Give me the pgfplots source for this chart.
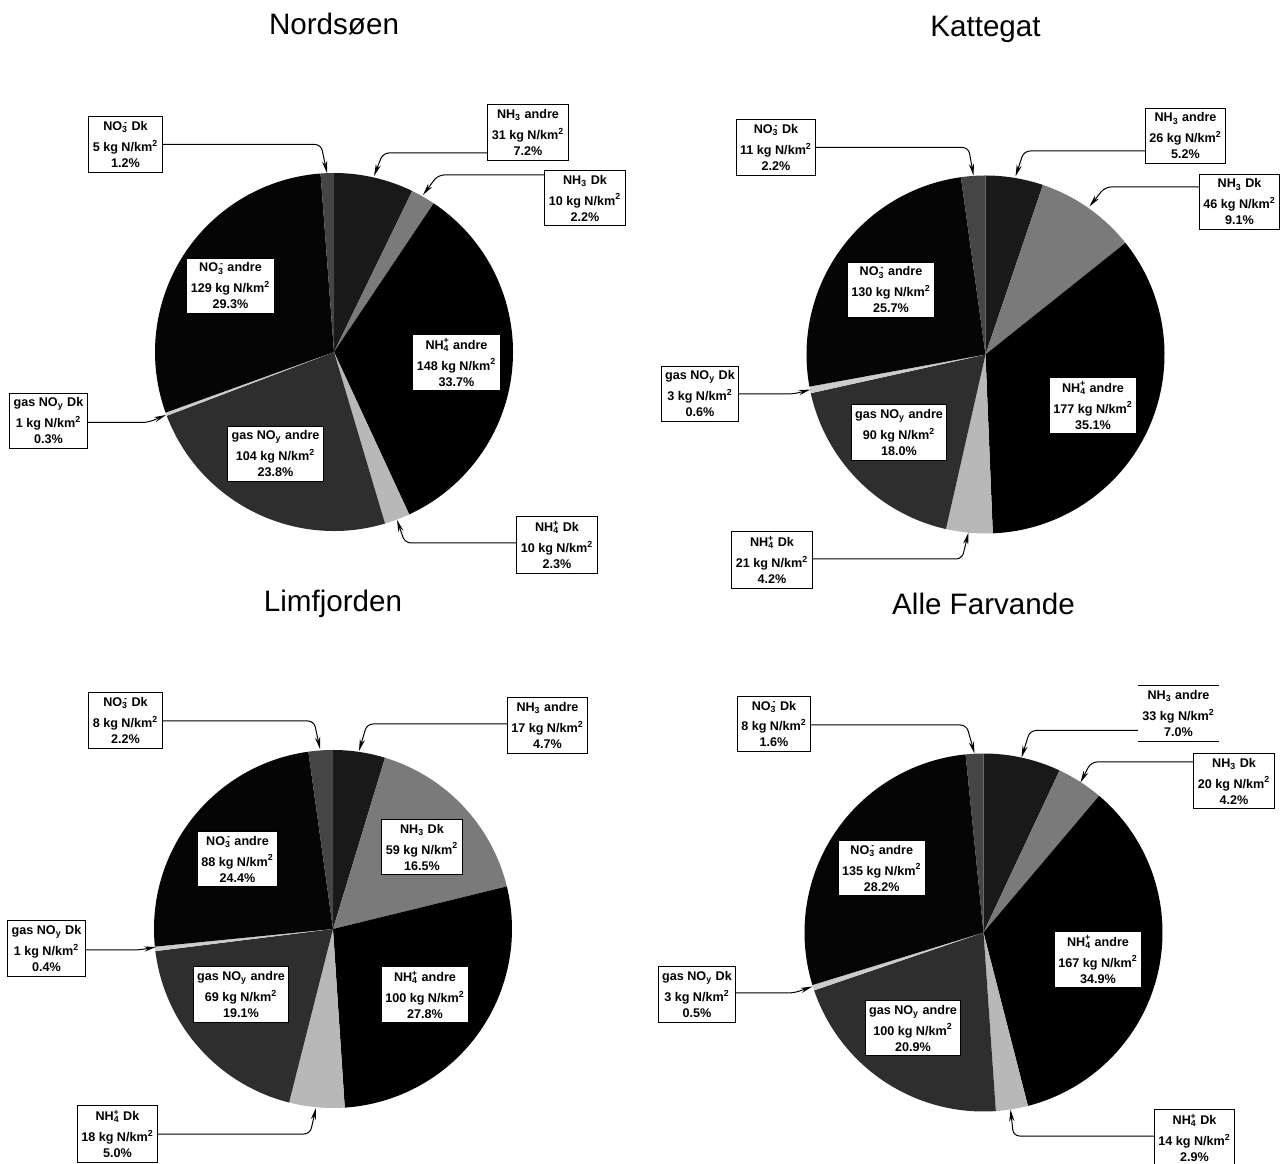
\documentclass[border=0pt]{standalone}
\usepackage{pgfplots}
\pgfplotsset{compat=1.18}
\usetikzlibrary{arrows.meta}
\usepackage{fontspec}
\setmainfont{Liberation Sans}

\definecolor{nh3a}{gray}{0.10}
\definecolor{nh3dk}{gray}{0.48}
\definecolor{nh4a}{gray}{0.0}
\definecolor{nh4dk}{gray}{0.72}
\definecolor{gasa}{gray}{0.18}
\definecolor{gasdk}{gray}{0.80}
\definecolor{no3a}{gray}{0.02}
\definecolor{no3dk}{gray}{0.27}

\newcommand{\ion}[2]{\textsubscript{#1}\llap{\textsuperscript{#2}}}
\newcommand{\kg}{kg N/km\textsuperscript{2}}

% slices clockwise from 12 o'clock: total, list of percent/colour
\newcommand{\piechart}[2]{%
  \gdef\cum{0}%
  \foreach \pct/\col in {#2} {%
    \pgfmathsetmacro\sa{90-\cum/#1*360}%
    \pgfmathsetmacro\sb{90-(\cum+\pct)/#1*360}%
    \pgfmathsetmacro\sx{179*cos(\sa)}%
    \pgfmathsetmacro\sy{179*sin(\sa)}%
    \edef\temp{\noexpand\fill[\col] (axis cs:0,0) -- (axis cs:\sx,\sy)
      arc[start angle=\sa, end angle=\sb, radius=89.5pt] -- cycle;}%
    \temp
    \pgfmathsetmacro\nn{\cum+\pct}\global\let\cum\nn
  }%
}

\pgfplotsset{
  piechart/.style={anchor=center, hide axis, x=0.5pt, y=0.5pt,
    xmin=-179, xmax=179, ymin=-179, ymax=179, clip=false,
    title style={at={(0.5,1)}, anchor=base, yshift=63.3pt,
      font=\fontsize{14.8}{18}\selectfont}},
}
\tikzset{
  lbl/.style={draw, line width=0.5pt, fill=white, align=center,
    inner xsep=2pt, inner ysep=2.4pt, font=\fontsize{6.3}{8}\selectfont\bfseries},
  arr/.style={line width=0.5pt, rounded corners=3pt,
    -{Stealth[length=6pt,width=2.6pt]}},
}

\begin{document}
\begin{tikzpicture}

% Nordsoen
\begin{axis}[piechart, at={(167pt,405.5pt)}, title={Nordsøen}]
\piechart{100.0}{7.2/nh3a, 2.2/nh3dk, 33.7/nh4a, 2.3/nh4dk, 23.8/gasa, 0.3/gasdk, 29.3/no3a, 1.2/no3dk}
\draw[arr] (-208.5,207.5) -- (-13,207.5) -- (-7,179);
\draw[arr] (194,199) -- (49,199) -- (40,176);
\draw[arr] (251,177) -- (104,177) -- (89,157);
\draw[arr] (-285.5,-70.5) -- (-186,-70.5) -- (-168,-63);
\draw[arr] (223,-191) -- (71,-191) -- (63,-168);
\node[lbl] at (-208.5,207.5) {NO\ion{3}{-} Dk\\[2.5pt]5 \kg\\1.2\%};
\node[lbl] at (194,219.5) {NH\textsubscript{3} andre\\[2.5pt]31 \kg\\7.2\%};
\node[lbl] at (251,154) {NH\textsubscript{3} Dk\\[2.5pt]10 \kg\\2.2\%};
\node[lbl] at (-103.5,66) {NO\ion{3}{-} andre\\[2.5pt]129 \kg\\29.3\%};
\node[lbl] at (122.5,-10.5) {NH\ion{4}{+} andre\\[2.5pt]148 \kg\\33.7\%};
\node[lbl] at (-285.5,-69) {gas NO\textsubscript{y} Dk\\[2.5pt]1 \kg\\0.3\%};
\node[lbl] at (-58.5,-102) {gas NO\textsubscript{y} andre\\[2.5pt]104 \kg\\23.8\%};
\node[lbl] at (223,-193) {NH\ion{4}{+} Dk\\[2.5pt]10 \kg\\2.3\%};
\end{axis}

% Kattegat
\begin{axis}[piechart, at={(492.75pt,404.25pt)}, title={Kattegat}]
\piechart{100.1}{5.2/nh3a, 9.1/nh3dk, 35.1/nh4a, 4.2/nh4dk, 18.0/gasa, 0.6/gasdk, 25.7/no3a, 2.2/no3dk}
\draw[arr] (-209.5,207) -- (-17,207) -- (-12,179);
\draw[arr] (200,203.5) -- (38.5,203.5) -- (30,178);
\draw[arr] (254,167.5) -- (119.5,167.5) -- (104,148);
\draw[arr] (-285.5,-39.5) -- (-191.5,-39.5) -- (-175,-35);
\draw[arr] (-213.5,-204.5) -- (-23.5,-204.5) -- (-17,-178);
\node[lbl] at (-209.5,207) {NO\ion{3}{-} Dk\\[2.5pt]11 \kg\\2.2\%};
\node[lbl] at (200,218.5) {NH\textsubscript{3} andre\\[2.5pt]26 \kg\\5.2\%};
\node[lbl] at (254,152.5) {NH\textsubscript{3} Dk\\[2.5pt]46 \kg\\9.1\%};
\node[lbl] at (-94.5,64.5) {NO\ion{3}{-} andre\\[2.5pt]130 \kg\\25.7\%};
\node[lbl] at (107.5,-51) {NH\ion{4}{+} andre\\[2.5pt]177 \kg\\35.1\%};
\node[lbl] at (-285.5,-39.5) {gas NO\textsubscript{y} Dk\\[2.5pt]3 \kg\\0.6\%};
\node[lbl] at (-86.5,-78) {gas NO\textsubscript{y} andre\\[2.5pt]90 \kg\\18.0\%};
\node[lbl] at (-213.5,-205.5) {NH\ion{4}{+} Dk\\[2.5pt]21 \kg\\4.2\%};
\end{axis}

% Limfjorden
\begin{axis}[piechart, at={(166.5pt,117pt)}, title={Limfjorden}]
\piechart{100.1}{4.7/nh3a, 16.5/nh3dk, 27.8/nh4a, 5.0/nh4dk, 19.1/gasa, 0.4/gasdk, 24.4/no3a, 2.2/no3dk}
\draw[arr] (-207.5,208) -- (-19,208) -- (-13,180);
\draw[arr] (214.5,205) -- (34,205) -- (26,178);
\draw[arr] (-286.5,-21) -- (-194,-21) -- (-177,-18);
\draw[arr] (-215.5,-205) -- (-23,-205) -- (-17,-179);
\node[lbl] at (-207.5,208.5) {NO\ion{3}{-} Dk\\[2.5pt]8 \kg\\2.2\%};
\node[lbl] at (214.5,203.5) {NH\textsubscript{3} andre\\[2.5pt]17 \kg\\4.7\%};
\node[lbl] at (89,82) {NH\textsubscript{3} Dk\\[2.5pt]59 \kg\\16.5\%};
\node[lbl] at (-95.5,70) {NO\ion{3}{-} andre\\[2.5pt]88 \kg\\24.4\%};
\node[lbl] at (-286.5,-19.5) {gas NO\textsubscript{y} Dk\\[2.5pt]1 \kg\\0.4\%};
\node[lbl] at (-92,-65.5) {gas NO\textsubscript{y} andre\\[2.5pt]69 \kg\\19.1\%};
\node[lbl] at (92,-65.5) {NH\ion{4}{+} andre\\[2.5pt]100 \kg\\27.8\%};
\node[lbl] at (-215.5,-205) {NH\ion{4}{+} Dk\\[2.5pt]18 \kg\\5.0\%};
\end{axis}

% Alle Farvande
\begin{axis}[piechart, at={(491.75pt,115.25pt)}, title={Alle Farvande}]
\piechart{100.2}{7.0/nh3a, 4.2/nh3dk, 34.9/nh4a, 2.9/nh4dk, 20.9/gasa, 0.5/gasdk, 28.2/no3a, 1.6/no3dk}
\draw[arr] (-209.5,207.5) -- (-17,207.5) -- (-9,179);
\draw[arr] (195,202) -- (46.5,202) -- (38,175);
\draw[arr] (250.5,170.5) -- (107.5,170.5) -- (97,150);
\draw[arr] (-286.5,-60.5) -- (-189.5,-60.5) -- (-171,-54);
\draw[arr] (211,-203.5) -- (30,-203.5) -- (27,-177);
\node[lbl] at (-209.5,208.5) {NO\ion{3}{-} Dk\\[2.5pt]8 \kg\\1.6\%};
\node[lbl, draw=none] (aa) at (195,219) {NH\textsubscript{3} andre\\[2.5pt]33 \kg\\7.0\%};
\draw[line width=0.5pt] (aa.north west) -- (aa.north east) (aa.south west) -- (aa.south east);
\node[lbl] at (250.5,151.5) {NH\textsubscript{3} Dk\\[2.5pt]20 \kg\\4.2\%};
\node[lbl] at (-101.75,64.5) {NO\ion{3}{-} andre\\[2.5pt]135 \kg\\28.2\%};
\node[lbl] at (114.5,-27) {NH\ion{4}{+} andre\\[2.5pt]167 \kg\\34.9\%};
\node[lbl] at (-286.5,-62) {gas NO\textsubscript{y} Dk\\[2.5pt]3 \kg\\0.5\%};
\node[lbl] at (-70.5,-95.5) {gas NO\textsubscript{y} andre\\[2.5pt]100 \kg\\20.9\%};
\node[lbl] at (211,-205) {NH\ion{4}{+} Dk\\[2.5pt]14 \kg\\2.9\%};
\end{axis}

\pgfresetboundingbox
\path (0,0) rectangle (640pt,581.5pt);
\end{tikzpicture}
\end{document}
